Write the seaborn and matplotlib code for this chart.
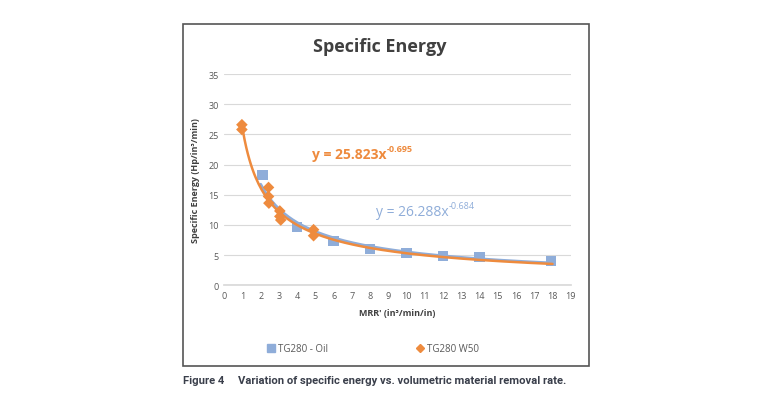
import numpy as np
import pandas as pd
import matplotlib
matplotlib.use("Agg")
import matplotlib.pyplot as plt
import seaborn as sns
from matplotlib.lines import Line2D
from matplotlib.patches import Rectangle

# TG280 - Oil
oil_mrr = [2.1, 4.0, 6.0, 8.0, 10.0, 12.0, 14.0, 17.9]
oil_energy = [18.3, 9.6, 7.3, 6.0, 5.3, 4.8, 4.7, 4.0]

# TG280 W50
w50_mrr = [0.97, 0.97, 2.43, 2.43, 2.45, 3.05, 3.05, 3.1, 4.9, 4.9]
w50_energy = [26.6, 25.8, 16.2, 14.7, 13.6, 12.3, 11.4, 10.8, 9.2, 8.2]

x_ticks = list(range(0, 20))
y_ticks = [0, 5, 10, 15, 20, 25, 30, 35]

oil_eq = ("y = 26.288x", "-0.684")
w50_eq = ("y = 25.823x", "-0.695")

blue = "#8FADD9"
orange = "#EE8B3E"

sns.set_theme(style="white")
plt.rcParams["font.family"] = ["Open Sans", "DejaVu Sans"]

fig = plt.figure(figsize=(7.6, 4.1), dpi=100)
fig.patch.set_facecolor("white")

# chart frame
fig.patches.append(Rectangle((183 / 760, 1 - 367 / 410), 406 / 760, 342 / 410,
                             transform=fig.transFigure, fill=False,
                             edgecolor="#555555", linewidth=1.2))

ax = fig.add_axes([0.295, 0.302, 0.456, 0.515])

oil = pd.DataFrame({"mrr": oil_mrr, "energy": oil_energy})
w50 = pd.DataFrame({"mrr": w50_mrr, "energy": w50_energy})


def power_fit(df, x0, x1):
    b, a = np.polyfit(np.log(df["mrr"]), np.log(df["energy"]), 1)
    xs = np.linspace(x0, x1, 200)
    return pd.DataFrame({"mrr": xs, "energy": np.exp(a) * xs ** b})


sns.scatterplot(data=oil, x="mrr", y="energy", marker="s", s=55, color=blue,
                edgecolor="none", ax=ax, zorder=3)
sns.lineplot(data=power_fit(oil, 2.0, 18), x="mrr", y="energy", color=blue,
             linewidth=2, ax=ax, zorder=4)
sns.scatterplot(data=w50, x="mrr", y="energy", marker="D", s=35, color=orange,
                edgecolor="none", ax=ax, zorder=5)
sns.lineplot(data=power_fit(w50, 0.95, 18), x="mrr", y="energy", color=orange,
             linewidth=1.8, ax=ax, zorder=6)

ax.set_xlim(0, 19)
ax.set_ylim(0, 35)
ax.set_xticks(x_ticks)
ax.set_yticks(y_ticks)
ax.tick_params(axis="both", labelsize=6.5, colors="#595959", length=0, pad=4)
ax.yaxis.grid(True, color="#D9D9D9", linewidth=0.8)
ax.xaxis.grid(False)
for side in ["top", "right", "left"]:
    ax.spines[side].set_visible(False)
ax.spines["bottom"].set_color("#D9D9D9")

ax.set_xlabel("MRR' (in³/min/in)", fontsize=6.5, fontweight="bold", color="#404040", labelpad=6)
ax.set_ylabel("Specific Energy (Hp/in³/min)", fontsize=6.5, fontweight="bold", color="#404040", labelpad=6)

t1 = ax.text(4.8, 21.7, w50_eq[0], color=orange, fontsize=10, fontweight="bold", va="center")
ax.annotate(w50_eq[1], xy=(1.0, 0.62), xycoords=t1, color=orange, fontsize=6.5,
            fontweight="bold", va="bottom", ha="left")
t2 = ax.text(8.3, 12.2, oil_eq[0], color=blue, fontsize=10, va="center")
ax.annotate(oil_eq[1], xy=(1.0, 0.62), xycoords=t2, color=blue, fontsize=6.5,
            va="bottom", ha="left")

fig.text(0.5, 1 - 47 / 410, "Specific Energy", ha="center", va="center",
         fontsize=13, fontweight="bold", color="#404040")

handles = [
    Line2D([], [], marker="s", linestyle="none", color=blue, markersize=6),
    Line2D([], [], marker="D", linestyle="none", color=orange, markersize=4.5),
]
fig.legend(handles, ["TG280 - Oil", "TG280 W50"], loc="center",
           bbox_to_anchor=(0.49, 1 - 350 / 410), ncol=2, frameon=False,
           fontsize=7, columnspacing=9, handletextpad=0.2, handlelength=1,
           labelcolor="#595959")

fig.text(183 / 760, 1 - 381 / 410,
         "Figure 4     Variation of specific energy vs. volumetric material removal rate.",
         ha="left", va="center", fontsize=8.1, fontweight="bold", color="#3A3F4B",
         family=["Liberation Sans Narrow", "Roboto", "DejaVu Sans"])

fig.savefig("out.png", dpi=100)
plt.close(fig)
